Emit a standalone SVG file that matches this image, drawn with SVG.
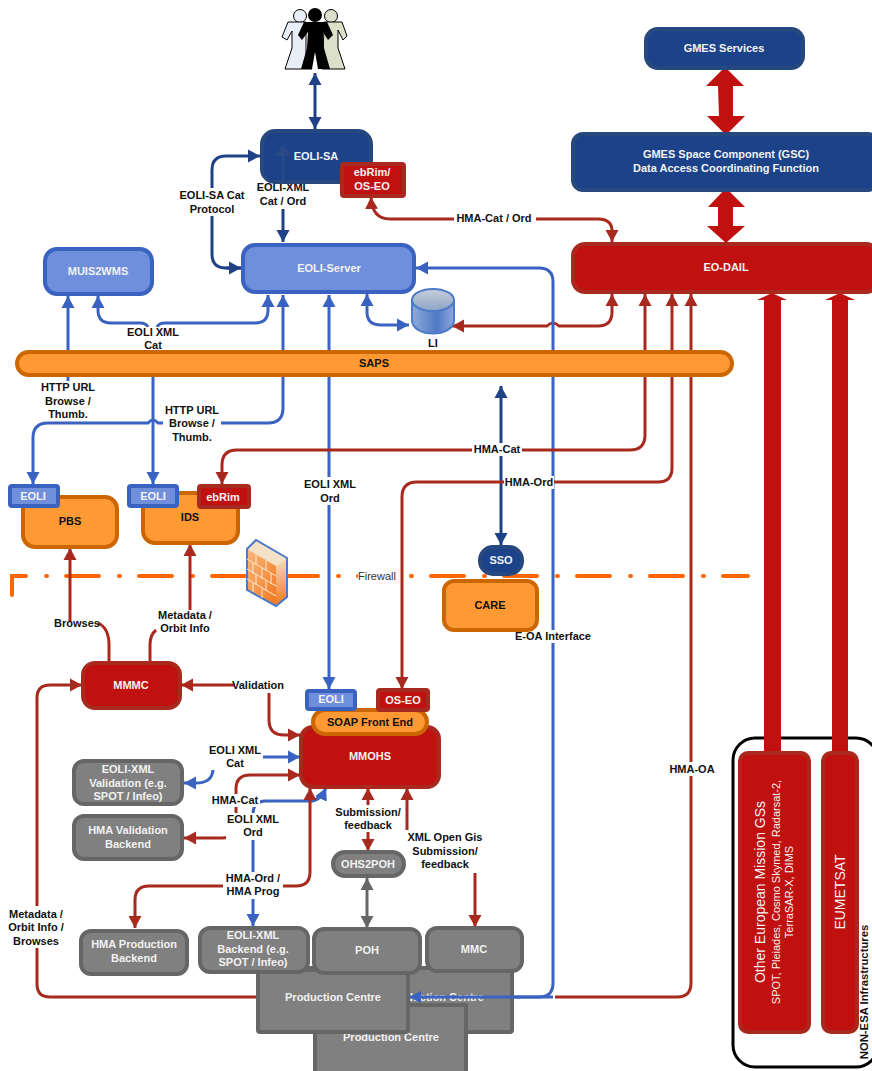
<svg xmlns="http://www.w3.org/2000/svg" width="872" height="1071" viewBox="0 0 872 1071">
<style>
text{font-family:"Liberation Sans",Arial,sans-serif;font-weight:bold;font-size:11px;text-anchor:middle;fill:#111}
.w{fill:#f2f2f2}
.db{fill:#1c4389;stroke:#27477f;stroke-width:4}
.lb{fill:#6f8fdc;stroke:#3a62c0;stroke-width:4}
.or{fill:#ff9933;stroke:#cc6600;stroke-width:4}
.rd{fill:#c0100f;stroke:#a82a1e;stroke-width:4}
.gy{fill:#808080;stroke:#666;stroke-width:4}
.c{fill:none;stroke-width:3}
.cb{stroke:#3a62c0}.cd{stroke:#1f4287}.cr{stroke:#a82a1e}.cg{stroke:#666}
.lab{fill:#fff;stroke:none}
</style>
<defs>
<marker id="ab" markerUnits="userSpaceOnUse" markerWidth="14" markerHeight="14" refX="12" refY="7" orient="auto-start-reverse"><path d="M0,0.5L12,7L0,13.5z" fill="#3a62c0"/></marker>
<marker id="ad" markerUnits="userSpaceOnUse" markerWidth="14" markerHeight="14" refX="12" refY="7" orient="auto-start-reverse"><path d="M0,0.5L12,7L0,13.5z" fill="#1f4287"/></marker>
<marker id="ar" markerUnits="userSpaceOnUse" markerWidth="14" markerHeight="14" refX="12" refY="7" orient="auto-start-reverse"><path d="M0,0.5L12,7L0,13.5z" fill="#a82a1e"/></marker>
<marker id="ag" markerUnits="userSpaceOnUse" markerWidth="14" markerHeight="14" refX="12" refY="7" orient="auto-start-reverse"><path d="M0,0.5L12,7L0,13.5z" fill="#666"/></marker>
<linearGradient id="cyl" x1="0" x2="1" y1="0" y2="0"><stop offset="0" stop-color="#8fa9dc"/><stop offset="0.6" stop-color="#4f79c4"/><stop offset="1" stop-color="#8fa9dc"/></linearGradient>
<linearGradient id="cylt" x1="0" x2="0" y1="0" y2="1"><stop offset="0" stop-color="#c8cfdc"/><stop offset="1" stop-color="#8fa3c8"/></linearGradient>
<linearGradient id="fw" x1="0" x2="1" y1="0" y2="1"><stop offset="0" stop-color="#fbb87c"/><stop offset="1" stop-color="#f07820"/></linearGradient>
<linearGradient id="fws" x1="0" x2="0" y1="0" y2="1"><stop offset="0" stop-color="#f5dcc0"/><stop offset="1" stop-color="#f07820"/></linearGradient>
</defs>
<rect width="872" height="1071" fill="#fff"/>

<g id="nonesa"><rect x="733" y="738" width="145" height="329" rx="22" fill="none" stroke="#000" stroke-width="3"/></g>

<g id="firewall-line"><path d="M12,595V576H748" fill="none" stroke="#ff6600" stroke-width="4" stroke-linecap="round" stroke-dasharray="33 20 1 19"/></g>

<g id="connectors">
<path class="c cd" d="M315,73V129" marker-start="url(#ad)" marker-end="url(#ad)"/>
<path class="c cd" d="M283,185V242" marker-end="url(#ad)"/>
<path class="c cd" d="M241,268H226Q212,268 212,254V170Q212,156 226,156H260" marker-end="url(#ad)"/>
<path class="c cd" d="M241,268H226" marker-start="url(#ad)"/>
<path class="c cd" d="M501,386V545" marker-start="url(#ad)" marker-end="url(#ad)"/>
<path class="c cr" d="M371,197Q372,219 390,219H598Q612,219 612,231V242" marker-start="url(#ar)" marker-end="url(#ar)"/>
<path class="c cb" d="M68,296V382"  marker-start="url(#ab)"/>
<path class="c cb" d="M98,296V310Q98,323 111,323H140Q146,323 148,327" marker-start="url(#ab)"/>
<path class="c cb" d="M157,327Q159,323 165,323H255Q268,323 268,310V295" marker-end="url(#ab)"/>
<path class="c cb" d="M153,370V484" marker-end="url(#ab)"/>
<path class="c cb" d="M283,295V408Q283,423 268,423H158Q153,417 148,423H48Q33,423 33,438V484" marker-start="url(#ab)" marker-end="url(#ab)"/>
<path class="c cb" d="M329,295V689" marker-start="url(#ab)" marker-end="url(#ab)"/>
<path class="c cb" d="M367,294V312Q367,325 381,325H409" marker-start="url(#ab)" marker-end="url(#ab)"/>
<path class="c cr" d="M452,326H547Q553,320 559,326H598Q612,326 612,312V294" marker-start="url(#ar)" marker-end="url(#ar)"/>
<path class="c cb" d="M416,268H539Q553,268 553,282V983Q553,997 539,997H410" marker-start="url(#ab)" marker-end="url(#ab)"/>
<path class="c cr" d="M222,484V465Q222,450 237,450H630Q645,450 645,435V294" marker-start="url(#ar)" marker-end="url(#ar)"/>
<path class="c cr" d="M402,689V497Q402,482 417,482H658Q672,482 672,468V294" marker-start="url(#ar)" marker-end="url(#ar)"/>
<path class="c cr" d="M691,294V983Q691,997 677,997H555" marker-start="url(#ar)"/>
<path class="c cr" d="M82,685H50Q37,685 37,698V984Q37,997 50,997H258" marker-start="url(#ar)"/>
<path class="c cr" d="M70,548V622"  marker-start="url(#ar)"/>
<path class="c cr" d="M98,623Q109,628 109,645V662"/>
<path class="c cr" d="M190,544V610"  marker-start="url(#ar)"/>
<path class="c cr" d="M156,630Q150,635 150,645V662"/>
<path class="c cr" d="M181,685H235" marker-start="url(#ar)"/>
<path class="c cr" d="M269,693V720Q269,735 284,735H300" marker-end="url(#ar)"/>
<path class="c cb" d="M262,757H300" marker-end="url(#ab)"/>
<path class="c cb" d="M213,770Q212,783 196,783H184" marker-end="url(#ab)"/>
<path class="c cr" d="M300,775H250Q236,775 236,789V825Q236,838 222,838H184" marker-start="url(#ar)" marker-end="url(#ar)"/>
<path class="c cb" d="M326,788Q320,801 310,801H266Q253,801 253,814V926" marker-start="url(#ab)" marker-end="url(#ab)"/>
<path class="c cr" d="M310,788V872Q310,886 296,886H149Q135,886 135,900V928" marker-start="url(#ar)" marker-end="url(#ar)"/>
<path class="c cr" d="M368,788V805" marker-start="url(#ar)"/>
<path class="c cr" d="M368,832V851" marker-end="url(#ar)"/>
<path class="c cr" d="M407,788V845" marker-start="url(#ar)"/>
<path class="c cr" d="M475,873V927" marker-end="url(#ar)"/>
<path class="c cg" d="M367,878V928" marker-start="url(#ag)" marker-end="url(#ag)"/>
<path d="M725,67L744,86H733V116H745L726,135L707,116H719L718,86H706Z" fill="#c0100f"/>
<path d="M726,188L745,207H733V226H745L726,243L707,226H718V207H708Z" fill="#c0100f"/>
<path d="M764,753V300H757L772,293L787,300H781V753Z" fill="#c0100f"/>
<path d="M832,753V300H825L840,293L855,300H848V753Z" fill="#c0100f"/>
</g>

<g id="labels">
<rect class="lab" x="176" y="188" width="72" height="28"/><text x="212" y="199">EOLI-SA Cat</text><text x="212" y="213">Protocol</text>
<rect class="lab" x="255" y="181" width="56" height="28"/><text x="283" y="191">EOLI-XML</text><text x="283" y="205">Cat / Ord</text>
<rect class="lab" x="454" y="212" width="82" height="14"/><text x="494" y="222">HMA-Cat / Ord</text>
<rect class="lab" x="125" y="327" width="56" height="26"/><text x="153" y="336">EOLI XML</text><text x="153" y="349">Cat</text>
<rect class="lab" x="39" y="381" width="59" height="40"/><text x="68" y="391">HTTP URL</text><text x="68" y="405">Browse /</text><text x="68" y="418">Thumb.</text>
<rect class="lab" x="163" y="403" width="58" height="42"/><text x="192" y="414">HTTP URL</text><text x="192" y="427">Browse /</text><text x="192" y="441">Thumb.</text>
<rect class="lab" x="472" y="443" width="50" height="13"/><text x="497" y="453">HMA-Cat</text>
<rect class="lab" x="504" y="476" width="50" height="13"/><text x="529" y="486">HMA-Ord</text>
<rect class="lab" x="302" y="477" width="56" height="28"/><text x="330" y="488">EOLI XML</text><text x="330" y="502">Ord</text>
<rect class="lab" x="358" y="570" width="38" height="13"/><text x="377" y="580" style="font-weight:normal;fill:#333">Firewall</text>
<rect class="lab" x="514" y="630" width="78" height="13"/><text x="553" y="640">E-OA Interface</text>
<text x="77" y="627">Browses</text>
<text x="185" y="619">Metadata /</text><text x="185" y="632">Orbit Info</text>
<text x="258" y="689">Validation</text>
<rect class="lab" x="207" y="743" width="56" height="27"/><text x="235" y="754">EOLI XML</text><text x="235" y="767">Cat</text>
<rect class="lab" x="210" y="794" width="50" height="13"/><text x="235" y="804">HMA-Cat</text>
<rect class="lab" x="226" y="813" width="55" height="27"/><text x="253" y="823">EOLI XML</text><text x="253" y="836">Ord</text>
<rect class="lab" x="223" y="872" width="60" height="27"/><text x="253" y="882">HMA-Ord /</text><text x="253" y="895">HMA Prog</text>
<text x="368" y="816">Submission/</text><text x="368" y="829">feedback</text>
<rect class="lab" x="405" y="830" width="78" height="41"/><text x="445" y="841">XML Open Gis</text><text x="445" y="855">Submission/</text><text x="445" y="868">feedback</text>
<rect class="lab" x="668" y="762" width="48" height="14"/><text x="692" y="773">HMA-OA</text>
<rect class="lab" x="6" y="906" width="60" height="42"/><text x="36" y="918">Metadata /</text><text x="36" y="931">Orbit Info /</text><text x="36" y="945">Browses</text>
</g>

<g id="users">
<g stroke="#000" stroke-width="1">
<circle cx="300" cy="16" r="6.5" fill="#e8eef8"/><path d="M288,22H306V60L312,69H285L292,48V31L287,40L282,37Z" fill="#e8eef8"/>
<circle cx="331" cy="16" r="6.5" fill="#dde0c8"/><path d="M342,22L347,36L343,40L338,30V48L345,69H322L324,30V22Z" fill="#dde0c8"/>
</g>
<circle cx="315" cy="15" r="7" fill="#000"/><path d="M304,22H327L333,35L328,40L323,32L324,48L330,69H318L315,52L312,69H301L307,48L308,32L302,40L298,35Z" fill="#000"/>
</g>

<g id="gmes-services"><rect class="db" x="646" y="29" width="157" height="39" rx="12"/><text class="w" x="724" y="52">GMES Services</text></g>
<g id="gsc"><rect class="db" x="573" y="134" width="305" height="56" rx="10"/><text class="w" x="726" y="158">GMES Space Component (GSC)</text><text class="w" x="726" y="172">Data Access Coordinating Function</text></g>
<g id="eo-dail"><rect class="rd" x="573" y="244" width="305" height="48" rx="12"/><text class="w" x="726" y="271">EO-DAIL</text></g>
<g id="eoli-sa"><rect class="db" x="262" y="131" width="109" height="51" rx="13"/><path d="M283,146l-6,9h12zM283,154V181" stroke="#2a4a85" stroke-width="2" fill="#2a4a85"/><text class="w" x="316" y="160">EOLI-SA</text></g>
<g id="ebrim-sa"><rect class="rd" x="342" y="164" width="62" height="32" rx="2"/><text class="w" x="372" y="176">ebRim/</text><text class="w" x="372" y="190">OS-EO</text></g>
<g id="eoli-server"><rect class="lb" x="243" y="245" width="171" height="47" rx="12"/><text class="w" x="329" y="272">EOLI-Server</text></g>
<g id="muis2wms"><rect class="lb" x="45" y="249" width="107" height="45" rx="12"/><text class="w" x="98" y="275">MUIS2WMS</text></g>
<g id="li"><path d="M412,300V320C412,338 454,338 454,320V300Z" fill="url(#cyl)" stroke="#4a7ac8" stroke-width="2"/><ellipse cx="433" cy="300" rx="21" ry="11" fill="url(#cylt)" stroke="#4a7ac8" stroke-width="2"/><text x="433" y="347">LI</text></g>
<g id="saps"><rect class="or" x="17" y="352" width="715" height="23" rx="11.5"/><text x="374" y="367">SAPS</text></g>
<g id="pbs"><rect class="or" x="23" y="497" width="94" height="50" rx="12"/><text x="70" y="525">PBS</text></g>
<g id="pbs-eoli"><rect class="lb" x="10" y="486" width="48" height="20" rx="2"/><text class="w" x="33" y="500">EOLI</text></g>
<g id="ids"><rect class="or" x="143" y="493" width="95" height="50" rx="12"/><text x="190" y="521">IDS</text></g>
<g id="ids-eoli"><rect class="lb" x="129" y="486" width="48" height="20" rx="2"/><text class="w" x="153" y="500">EOLI</text></g>
<g id="ids-ebrim"><rect class="rd" x="199" y="486" width="50" height="21" rx="2"/><text class="w" x="223" y="501">ebRim</text></g>
<g id="firewall-icon"><path d="M247,549L256,540L287,558L276,566Z" fill="#f5e0c8"/><path d="M247,549L276,566V606L247,590Z" fill="url(#fw)"/><path d="M276,566L287,558V597L276,606Z" fill="url(#fws)"/><path d="M247,549L256,540L287,558V597L276,606L247,590Z" fill="none" stroke="#4a7ac8" stroke-width="2"/><path d="M247,559L276,576M247,569L276,586M247,579L276,596M256,554V565M266,560V571M253,563V574M262,568V579M271,573V584M256,574V585M266,580V591M253,583V592M262,588V598" fill="none" stroke="#fde8d0" stroke-width="1"/></g>
<g id="sso"><rect class="db" x="480" y="547" width="42" height="27" rx="13"/><text class="w" x="501" y="564">SSO</text></g>
<g id="care"><rect class="or" x="444" y="581" width="93" height="49" rx="10"/><text x="490" y="609">CARE</text></g>
<g id="mmmc"><rect class="rd" x="83" y="663" width="97" height="45" rx="12"/><text class="w" x="131" y="689">MMMC</text></g>
<g id="mmohs"><rect class="rd" x="301" y="727" width="138" height="60" rx="12"/><text class="w" x="370" y="760">MMOHS</text></g>
<g id="soap"><rect class="or" x="313" y="710" width="114" height="24" rx="12"/><text x="370" y="726">SOAP Front End</text></g>
<g id="mmohs-eoli"><rect class="lb" x="307" y="691" width="48" height="18" rx="2"/><text class="w" x="331" y="703">EOLI</text></g>
<g id="mmohs-oseo"><rect class="rd" x="378" y="690" width="50" height="20" rx="2"/><text class="w" x="403" y="704">OS-EO</text></g>
<g id="val-eoli"><rect class="gy" x="74" y="761" width="108" height="43" rx="10"/><text class="w" x="128" y="773">EOLI-XML</text><text class="w" x="128" y="787">Validation (e.g.</text><text class="w" x="128" y="800">SPOT / Infeo)</text></g>
<g id="val-hma"><rect class="gy" x="74" y="816" width="108" height="43" rx="10"/><text class="w" x="128" y="834">HMA Validation</text><text class="w" x="128" y="848">Backend</text></g>
<g id="ohs2poh"><rect class="gy" x="333" y="852" width="71" height="24" rx="12"/><text class="w" x="368" y="868">OHS2POH</text></g>
<g id="pc2"><rect class="gy" x="300" y="968" width="212" height="64" rx="2"/><text class="w" x="436" y="1001">Production Centre</text></g>
<g id="pc3"><rect class="gy" x="315" y="1005" width="151" height="70"/><text class="w" x="391" y="1041">Production Centre</text></g>
<g id="pc1"><rect class="gy" x="258" y="970" width="150" height="62" rx="2"/><text class="w" x="333" y="1001">Production Centre</text></g>
<g id="be-hma"><rect class="gy" x="81" y="931" width="106" height="43" rx="10"/><text class="w" x="134" y="948">HMA Production</text><text class="w" x="134" y="962">Backend</text></g>
<g id="be-eoli"><rect class="gy" x="200" y="928" width="108" height="44" rx="10"/><text class="w" x="253" y="939">EOLI-XML</text><text class="w" x="253" y="953">Backend (e.g.</text><text class="w" x="253" y="966">SPOT / Infeo)</text></g>
<g id="poh"><rect class="gy" x="314" y="929" width="106" height="44" rx="10"/><text class="w" x="367" y="954">POH</text></g>
<g id="mmc"><rect class="gy" x="427" y="928" width="95" height="43" rx="10"/><text class="w" x="474" y="953">MMC</text></g>
<path d="M410,997H553" class="c cb"/><path d="M409,997L421,991V1003Z" fill="#3a62c0"/>
<g id="other-gs"><rect class="rd" x="740" y="753" width="69" height="279" rx="8"/><text class="w" transform="translate(765,892) rotate(-90)" style="font-weight:normal;font-size:14px">Other European Mission GSs</text><text class="w" transform="translate(780,892) rotate(-90)" style="font-weight:normal;font-size:11px">SPOT, Pleiades, Cosmo Skymed, Radarsat-2,</text><text class="w" transform="translate(793,892) rotate(-90)" style="font-weight:normal;font-size:11px">TerraSAR-X, DIMS</text></g>
<g id="eumetsat"><rect class="rd" x="823" y="753" width="34" height="279" rx="8"/><text class="w" transform="translate(845,892) rotate(-90)" style="font-weight:normal;font-size:14px">EUMETSAT</text></g>
<text transform="translate(868,992) rotate(-90)" style="font-size:11.3px">NON-ESA Infrastructures</text>
</svg>
